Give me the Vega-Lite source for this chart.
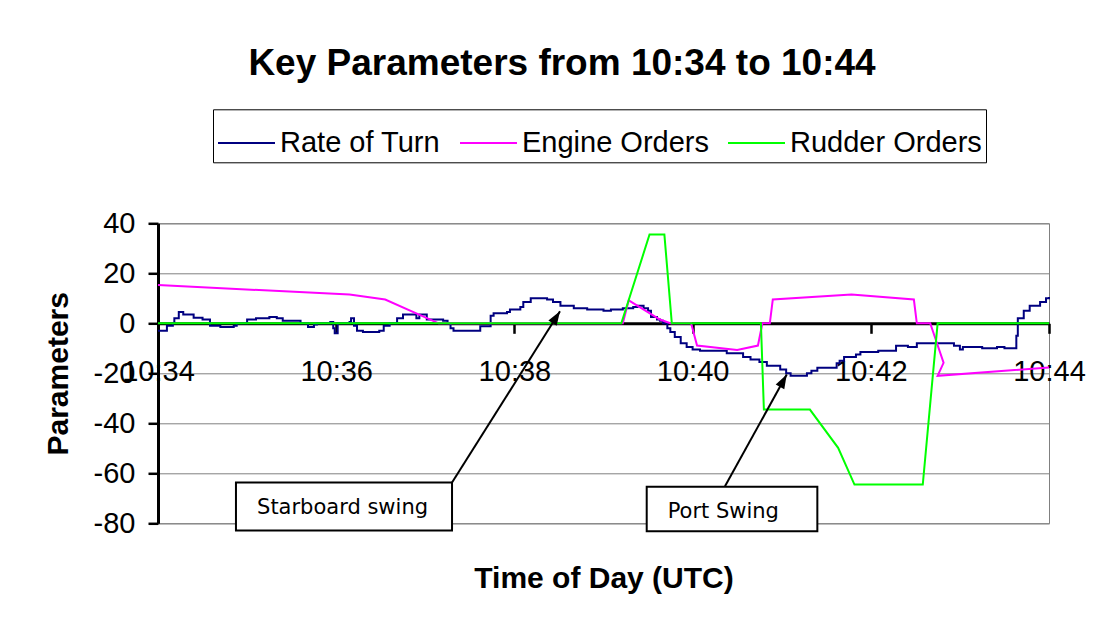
{
  "$schema": "https://vega.github.io/schema/vega-lite/v6.json",
  "width": 891,
  "height": 300,
  "autosize": "none",
  "padding": {"left": 158, "top": 223.3, "right": 51, "bottom": 100.7},
  "background": "white",
  "title": {
    "text": "Key Parameters from 10:34 to 10:44",
    "fontSize": 37,
    "fontWeight": "bold",
    "color": "black",
    "anchor": "middle",
    "frame": "group",
    "dx": -41.5,
    "offset": 26
  },
  "layer": [
    {
      "data": {"values": [
        {"series": "Rate of Turn", "t": "2024-01-01T10:34:00Z", "v": -3},
        {"series": "Rate of Turn", "t": "2024-01-01T10:34:06Z", "v": -1},
        {"series": "Rate of Turn", "t": "2024-01-01T10:34:10Z", "v": 0},
        {"series": "Rate of Turn", "t": "2024-01-01T10:34:11Z", "v": 2},
        {"series": "Rate of Turn", "t": "2024-01-01T10:34:14Z", "v": 4.5},
        {"series": "Rate of Turn", "t": "2024-01-01T10:34:17Z", "v": 3.5},
        {"series": "Rate of Turn", "t": "2024-01-01T10:34:24Z", "v": 2.2},
        {"series": "Rate of Turn", "t": "2024-01-01T10:34:30Z", "v": 1.5},
        {"series": "Rate of Turn", "t": "2024-01-01T10:34:35Z", "v": -1},
        {"series": "Rate of Turn", "t": "2024-01-01T10:34:42Z", "v": -1.5},
        {"series": "Rate of Turn", "t": "2024-01-01T10:34:51Z", "v": -1},
        {"series": "Rate of Turn", "t": "2024-01-01T10:34:53Z", "v": 0},
        {"series": "Rate of Turn", "t": "2024-01-01T10:35:00Z", "v": 1.5},
        {"series": "Rate of Turn", "t": "2024-01-01T10:35:06Z", "v": 2},
        {"series": "Rate of Turn", "t": "2024-01-01T10:35:15Z", "v": 2.5},
        {"series": "Rate of Turn", "t": "2024-01-01T10:35:20Z", "v": 2},
        {"series": "Rate of Turn", "t": "2024-01-01T10:35:24Z", "v": 1},
        {"series": "Rate of Turn", "t": "2024-01-01T10:35:36Z", "v": 0},
        {"series": "Rate of Turn", "t": "2024-01-01T10:35:41Z", "v": -1.5},
        {"series": "Rate of Turn", "t": "2024-01-01T10:35:45Z", "v": -0.5},
        {"series": "Rate of Turn", "t": "2024-01-01T10:35:47Z", "v": 0},
        {"series": "Rate of Turn", "t": "2024-01-01T10:35:56Z", "v": 0.5},
        {"series": "Rate of Turn", "t": "2024-01-01T10:35:58Z", "v": -2},
        {"series": "Rate of Turn", "t": "2024-01-01T10:35:59Z", "v": -4},
        {"series": "Rate of Turn", "t": "2024-01-01T10:36:01Z", "v": 0},
        {"series": "Rate of Turn", "t": "2024-01-01T10:36:09Z", "v": 0.5},
        {"series": "Rate of Turn", "t": "2024-01-01T10:36:10Z", "v": 2},
        {"series": "Rate of Turn", "t": "2024-01-01T10:36:12Z", "v": -1},
        {"series": "Rate of Turn", "t": "2024-01-01T10:36:14Z", "v": -3},
        {"series": "Rate of Turn", "t": "2024-01-01T10:36:18Z", "v": -3.5},
        {"series": "Rate of Turn", "t": "2024-01-01T10:36:29Z", "v": -3},
        {"series": "Rate of Turn", "t": "2024-01-01T10:36:32Z", "v": -1},
        {"series": "Rate of Turn", "t": "2024-01-01T10:36:36Z", "v": 0},
        {"series": "Rate of Turn", "t": "2024-01-01T10:36:41Z", "v": 2},
        {"series": "Rate of Turn", "t": "2024-01-01T10:36:45Z", "v": 3.5},
        {"series": "Rate of Turn", "t": "2024-01-01T10:36:54Z", "v": 2},
        {"series": "Rate of Turn", "t": "2024-01-01T10:36:56Z", "v": 3.5},
        {"series": "Rate of Turn", "t": "2024-01-01T10:37:01Z", "v": 1.5},
        {"series": "Rate of Turn", "t": "2024-01-01T10:37:12Z", "v": 1},
        {"series": "Rate of Turn", "t": "2024-01-01T10:37:15Z", "v": 0},
        {"series": "Rate of Turn", "t": "2024-01-01T10:37:17Z", "v": -2},
        {"series": "Rate of Turn", "t": "2024-01-01T10:37:19Z", "v": -3},
        {"series": "Rate of Turn", "t": "2024-01-01T10:37:37Z", "v": -1.2},
        {"series": "Rate of Turn", "t": "2024-01-01T10:37:44Z", "v": 3},
        {"series": "Rate of Turn", "t": "2024-01-01T10:37:46Z", "v": 4},
        {"series": "Rate of Turn", "t": "2024-01-01T10:37:55Z", "v": 4.5},
        {"series": "Rate of Turn", "t": "2024-01-01T10:37:57Z", "v": 5.5},
        {"series": "Rate of Turn", "t": "2024-01-01T10:38:04Z", "v": 6.5},
        {"series": "Rate of Turn", "t": "2024-01-01T10:38:06Z", "v": 8.5},
        {"series": "Rate of Turn", "t": "2024-01-01T10:38:11Z", "v": 10},
        {"series": "Rate of Turn", "t": "2024-01-01T10:38:22Z", "v": 9.5},
        {"series": "Rate of Turn", "t": "2024-01-01T10:38:26Z", "v": 8.5},
        {"series": "Rate of Turn", "t": "2024-01-01T10:38:31Z", "v": 7},
        {"series": "Rate of Turn", "t": "2024-01-01T10:38:40Z", "v": 6},
        {"series": "Rate of Turn", "t": "2024-01-01T10:38:49Z", "v": 5.5},
        {"series": "Rate of Turn", "t": "2024-01-01T10:39:00Z", "v": 5},
        {"series": "Rate of Turn", "t": "2024-01-01T10:39:05Z", "v": 5.5},
        {"series": "Rate of Turn", "t": "2024-01-01T10:39:13Z", "v": 6},
        {"series": "Rate of Turn", "t": "2024-01-01T10:39:20Z", "v": 6.5},
        {"series": "Rate of Turn", "t": "2024-01-01T10:39:23Z", "v": 7},
        {"series": "Rate of Turn", "t": "2024-01-01T10:39:27Z", "v": 6},
        {"series": "Rate of Turn", "t": "2024-01-01T10:39:30Z", "v": 5},
        {"series": "Rate of Turn", "t": "2024-01-01T10:39:32Z", "v": 2.5},
        {"series": "Rate of Turn", "t": "2024-01-01T10:39:36Z", "v": 1.5},
        {"series": "Rate of Turn", "t": "2024-01-01T10:39:38Z", "v": 1},
        {"series": "Rate of Turn", "t": "2024-01-01T10:39:40Z", "v": 0},
        {"series": "Rate of Turn", "t": "2024-01-01T10:39:43Z", "v": -2},
        {"series": "Rate of Turn", "t": "2024-01-01T10:39:45Z", "v": -3.5},
        {"series": "Rate of Turn", "t": "2024-01-01T10:39:48Z", "v": -5.5},
        {"series": "Rate of Turn", "t": "2024-01-01T10:39:52Z", "v": -8},
        {"series": "Rate of Turn", "t": "2024-01-01T10:39:56Z", "v": -9.5},
        {"series": "Rate of Turn", "t": "2024-01-01T10:40:00Z", "v": -10.5},
        {"series": "Rate of Turn", "t": "2024-01-01T10:40:05Z", "v": -11},
        {"series": "Rate of Turn", "t": "2024-01-01T10:40:23Z", "v": -12},
        {"series": "Rate of Turn", "t": "2024-01-01T10:40:34Z", "v": -13.5},
        {"series": "Rate of Turn", "t": "2024-01-01T10:40:39Z", "v": -14.5},
        {"series": "Rate of Turn", "t": "2024-01-01T10:40:45Z", "v": -15.5},
        {"series": "Rate of Turn", "t": "2024-01-01T10:40:50Z", "v": -17},
        {"series": "Rate of Turn", "t": "2024-01-01T10:40:59Z", "v": -18.5},
        {"series": "Rate of Turn", "t": "2024-01-01T10:41:03Z", "v": -20},
        {"series": "Rate of Turn", "t": "2024-01-01T10:41:06Z", "v": -21},
        {"series": "Rate of Turn", "t": "2024-01-01T10:41:17Z", "v": -20},
        {"series": "Rate of Turn", "t": "2024-01-01T10:41:20Z", "v": -19},
        {"series": "Rate of Turn", "t": "2024-01-01T10:41:24Z", "v": -17.8},
        {"series": "Rate of Turn", "t": "2024-01-01T10:41:37Z", "v": -16},
        {"series": "Rate of Turn", "t": "2024-01-01T10:41:39Z", "v": -15},
        {"series": "Rate of Turn", "t": "2024-01-01T10:41:42Z", "v": -13.5},
        {"series": "Rate of Turn", "t": "2024-01-01T10:41:50Z", "v": -12.5},
        {"series": "Rate of Turn", "t": "2024-01-01T10:41:53Z", "v": -11.5},
        {"series": "Rate of Turn", "t": "2024-01-01T10:42:05Z", "v": -11},
        {"series": "Rate of Turn", "t": "2024-01-01T10:42:17Z", "v": -9},
        {"series": "Rate of Turn", "t": "2024-01-01T10:42:25Z", "v": -9.5},
        {"series": "Rate of Turn", "t": "2024-01-01T10:42:31Z", "v": -8},
        {"series": "Rate of Turn", "t": "2024-01-01T10:42:56Z", "v": -9},
        {"series": "Rate of Turn", "t": "2024-01-01T10:43:00Z", "v": -10.5},
        {"series": "Rate of Turn", "t": "2024-01-01T10:43:02Z", "v": -9.5},
        {"series": "Rate of Turn", "t": "2024-01-01T10:43:15Z", "v": -10},
        {"series": "Rate of Turn", "t": "2024-01-01T10:43:25Z", "v": -9.5},
        {"series": "Rate of Turn", "t": "2024-01-01T10:43:30Z", "v": -10},
        {"series": "Rate of Turn", "t": "2024-01-01T10:43:38Z", "v": -5},
        {"series": "Rate of Turn", "t": "2024-01-01T10:43:39Z", "v": 2},
        {"series": "Rate of Turn", "t": "2024-01-01T10:43:43Z", "v": 5},
        {"series": "Rate of Turn", "t": "2024-01-01T10:43:47Z", "v": 7},
        {"series": "Rate of Turn", "t": "2024-01-01T10:43:54Z", "v": 8.5},
        {"series": "Rate of Turn", "t": "2024-01-01T10:43:58Z", "v": 10},
        {"series": "Rate of Turn", "t": "2024-01-01T10:44:00Z", "v": 10.5}
      ]},
      "mark": {"type": "line", "interpolate": "step-after", "strokeWidth": 2},
      "encoding": {
        "x": {
          "field": "t", "type": "temporal", "title": "Time of Day (UTC)",
          "scale": {"type": "utc", "nice": false,
            "domain": [
              {"year": 2024, "month": 1, "date": 1, "hours": 10, "minutes": 34, "utc": true},
              {"year": 2024, "month": 1, "date": 1, "hours": 10, "minutes": 44, "utc": true}
            ]},
          "axis": {
            "values": [
              {"year": 2024, "month": 1, "date": 1, "hours": 10, "minutes": 34, "utc": true},
              {"year": 2024, "month": 1, "date": 1, "hours": 10, "minutes": 36, "utc": true},
              {"year": 2024, "month": 1, "date": 1, "hours": 10, "minutes": 38, "utc": true},
              {"year": 2024, "month": 1, "date": 1, "hours": 10, "minutes": 40, "utc": true},
              {"year": 2024, "month": 1, "date": 1, "hours": 10, "minutes": 42, "utc": true},
              {"year": 2024, "month": 1, "date": 1, "hours": 10, "minutes": 44, "utc": true}
            ],
            "format": "%H:%M",
            "grid": false,
            "offset": -200,
            "domainColor": "black", "domainWidth": 3,
            "tickColor": "black", "tickWidth": 2.5, "tickSize": 10,
            "labelFontSize": 29, "labelColor": "black", "labelPadding": 24,
            "labelFlush": false, "labelOverlap": false, "labelBound": false,
            "titleFontSize": 30, "titleFontWeight": "bold", "titleColor": "black",
            "titlePadding": 177
          }
        },
        "y": {
          "field": "v", "type": "quantitative", "title": "Parameters",
          "scale": {"domain": [-80, 40], "nice": false, "zero": false},
          "axis": {
            "values": [-80, -60, -40, -20, 0, 20, 40],
            "labelExpr": "'' + datum.value",
            "grid": true, "gridColor": "#808080", "gridWidth": 1,
            "domainColor": "black", "domainWidth": 3,
            "tickColor": "black", "tickWidth": 2.5, "tickSize": 10,
            "labelFontSize": 29, "labelColor": "black", "labelPadding": 13,
            "titleFontSize": 30, "titleFontWeight": "bold", "titleColor": "black",
            "titlePadding": 20
          }
        },
        "color": {
          "field": "series", "type": "nominal",
          "scale": {"domain": ["Rate of Turn", "Engine Orders", "Rudder Orders"], "range": ["#000080", "#FF00FF", "#00FF00"]},
          "legend": {
            "title": null, "orient": "none", "legendX": 55, "legendY": -114,
            "direction": "horizontal", "symbolType": "stroke", "symbolSize": 3249,
            "symbolStrokeWidth": 2, "labelFontSize": 29, "labelColor": "black",
            "labelOffset": 4, "columnPadding": 15, "padding": 4,
            "strokeColor": "black", "fillColor": "white", "labelLimit": 400
          }
        }
      }
    },
    {
      "data": {"values": [
        {"series": "Engine Orders", "i": 1, "t": "2024-01-01T10:34:00Z", "v": 15.3},
        {"series": "Engine Orders", "i": 2, "t": "2024-01-01T10:36:09Z", "v": 11.5},
        {"series": "Engine Orders", "i": 3, "t": "2024-01-01T10:36:33Z", "v": 9.5},
        {"series": "Engine Orders", "i": 4, "t": "2024-01-01T10:37:09Z", "v": 0},
        {"series": "Engine Orders", "i": 5, "t": "2024-01-01T10:39:13Z", "v": 0},
        {"series": "Engine Orders", "i": 6, "t": "2024-01-01T10:39:17Z", "v": 9.2},
        {"series": "Engine Orders", "i": 7, "t": "2024-01-01T10:39:38Z", "v": 1.5},
        {"series": "Engine Orders", "i": 8, "t": "2024-01-01T10:39:45Z", "v": 0},
        {"series": "Engine Orders", "i": 9, "t": "2024-01-01T10:39:59Z", "v": 0},
        {"series": "Engine Orders", "i": 10, "t": "2024-01-01T10:40:03Z", "v": -8.9},
        {"series": "Engine Orders", "i": 11, "t": "2024-01-01T10:40:30Z", "v": -10.7},
        {"series": "Engine Orders", "i": 12, "t": "2024-01-01T10:40:44Z", "v": -8.9},
        {"series": "Engine Orders", "i": 13, "t": "2024-01-01T10:40:47Z", "v": 0},
        {"series": "Engine Orders", "i": 14, "t": "2024-01-01T10:40:52Z", "v": 0},
        {"series": "Engine Orders", "i": 15, "t": "2024-01-01T10:40:54Z", "v": 9.5},
        {"series": "Engine Orders", "i": 16, "t": "2024-01-01T10:41:47Z", "v": 11.5},
        {"series": "Engine Orders", "i": 17, "t": "2024-01-01T10:42:29Z", "v": 9.5},
        {"series": "Engine Orders", "i": 18, "t": "2024-01-01T10:42:31Z", "v": 0},
        {"series": "Engine Orders", "i": 19, "t": "2024-01-01T10:42:40Z", "v": 0},
        {"series": "Engine Orders", "i": 20, "t": "2024-01-01T10:42:49Z", "v": -15.8},
        {"series": "Engine Orders", "i": 21, "t": "2024-01-01T10:42:45Z", "v": -21},
        {"series": "Engine Orders", "i": 22, "t": "2024-01-01T10:44:00Z", "v": -17.7},
        {"series": "Rudder Orders", "i": 1, "t": "2024-01-01T10:34:00Z", "v": 0},
        {"series": "Rudder Orders", "i": 2, "t": "2024-01-01T10:39:12Z", "v": 0},
        {"series": "Rudder Orders", "i": 3, "t": "2024-01-01T10:39:31Z", "v": 35.5},
        {"series": "Rudder Orders", "i": 4, "t": "2024-01-01T10:39:41Z", "v": 35.5},
        {"series": "Rudder Orders", "i": 5, "t": "2024-01-01T10:39:46Z", "v": 0},
        {"series": "Rudder Orders", "i": 6, "t": "2024-01-01T10:40:46Z", "v": 0},
        {"series": "Rudder Orders", "i": 7, "t": "2024-01-01T10:40:48Z", "v": -34.5},
        {"series": "Rudder Orders", "i": 8, "t": "2024-01-01T10:41:19Z", "v": -34.5},
        {"series": "Rudder Orders", "i": 9, "t": "2024-01-01T10:41:38Z", "v": -49.8},
        {"series": "Rudder Orders", "i": 10, "t": "2024-01-01T10:41:49Z", "v": -64.5},
        {"series": "Rudder Orders", "i": 11, "t": "2024-01-01T10:42:35Z", "v": -64.5},
        {"series": "Rudder Orders", "i": 12, "t": "2024-01-01T10:42:45Z", "v": 0},
        {"series": "Rudder Orders", "i": 13, "t": "2024-01-01T10:44:00Z", "v": 0}
      ]},
      "mark": {"type": "line", "strokeWidth": 2},
      "encoding": {
        "x": {"field": "t", "type": "temporal", "title": "Time of Day (UTC)"},
        "y": {"field": "v", "type": "quantitative", "title": "Parameters"},
        "order": {"field": "i", "type": "quantitative"},
        "color": {"field": "series", "type": "nominal"}
      }
    },
    {
      "data": {"values": [
        {"label": "Starboard swing", "x1": "2024-01-01T10:34:52.5Z", "x2": "2024-01-01T10:37:18Z", "y1": -63.7, "y2": -82.9, "tx": "2024-01-01T10:35:06.7Z", "ty": -76.2, "ax": "2024-01-01T10:37:18Z", "ay": -63.7, "hx": "2024-01-01T10:38:30.7Z", "hy": 4.8},
        {"label": "Port Swing", "x1": "2024-01-01T10:39:29.1Z", "x2": "2024-01-01T10:41:24Z", "y1": -65.4, "y2": -83.2, "tx": "2024-01-01T10:39:43.2Z", "ty": -77.7, "ax": "2024-01-01T10:40:21.8Z", "ay": -65.2, "hx": "2024-01-01T10:41:03.4Z", "hy": -20.5}
      ]},
      "layer": [
        {
          "mark": {"type": "rect", "fill": "white", "stroke": "black", "strokeWidth": 2, "clip": false},
          "encoding": {
            "x": {"field": "x1", "type": "temporal", "title": "Time of Day (UTC)"},
            "x2": {"field": "x2"},
            "y": {"field": "y1", "type": "quantitative", "title": "Parameters"},
            "y2": {"field": "y2"}
          }
        },
        {
          "mark": {"type": "text", "font": "DejaVu Sans", "fontSize": 21, "color": "black", "align": "left", "baseline": "alphabetic", "clip": false},
          "encoding": {
            "x": {"field": "tx", "type": "temporal", "title": "Time of Day (UTC)"},
            "y": {"field": "ty", "type": "quantitative", "title": "Parameters"},
            "text": {"field": "label"}
          }
        },
        {
          "mark": {"type": "rule", "color": "black", "strokeWidth": 2, "clip": false},
          "encoding": {
            "x": {"field": "ax", "type": "temporal", "title": "Time of Day (UTC)"},
            "y": {"field": "ay", "type": "quantitative", "title": "Parameters"},
            "x2": {"field": "hx"},
            "y2": {"field": "hy"}
          }
        },
        {
          "transform": [{"filter": "datum.label == 'Starboard swing'"}],
          "mark": {"type": "point", "shape": "M0,0L-0.7,2L0.7,2Z", "filled": true, "color": "black", "opacity": 1, "size": 196, "angle": 32.3, "strokeWidth": 0},
          "encoding": {
            "x": {"field": "hx", "type": "temporal", "title": "Time of Day (UTC)"},
            "y": {"field": "hy", "type": "quantitative", "title": "Parameters"}
          }
        },
        {
          "transform": [{"filter": "datum.label == 'Port Swing'"}],
          "mark": {"type": "point", "shape": "M0,0L-0.7,2L0.7,2Z", "filled": true, "color": "black", "opacity": 1, "size": 196, "angle": 28.9, "strokeWidth": 0},
          "encoding": {
            "x": {"field": "hx", "type": "temporal", "title": "Time of Day (UTC)"},
            "y": {"field": "hy", "type": "quantitative", "title": "Parameters"}
          }
        }
      ]
    }
  ],
  "config": {
    "font": "Liberation Sans",
    "view": {"stroke": "#808080", "strokeWidth": 1}
  }
}
